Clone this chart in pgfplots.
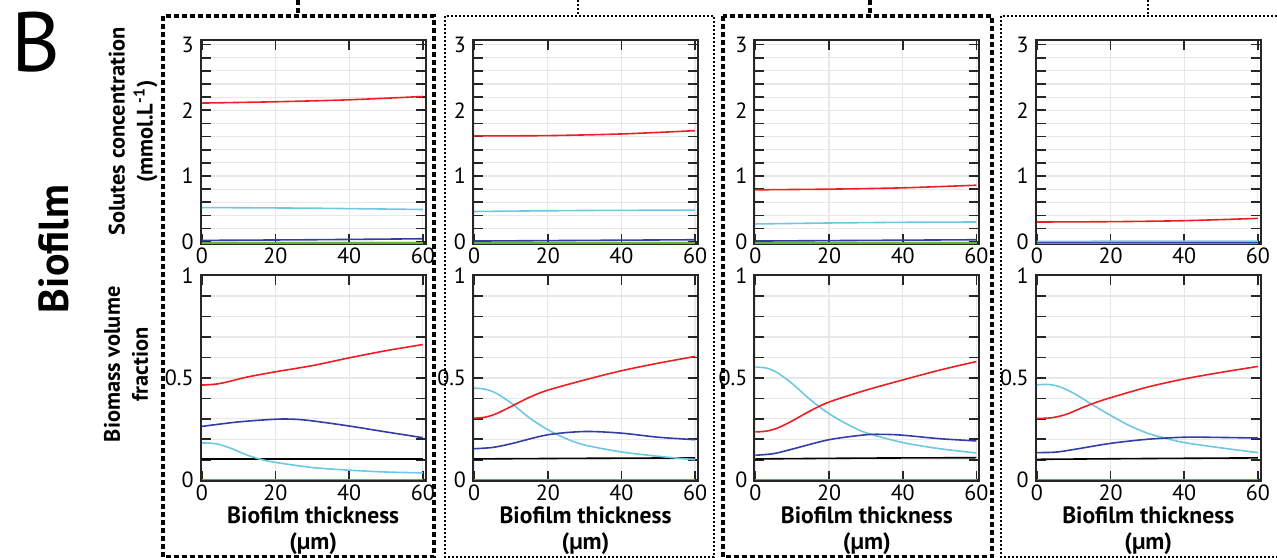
\documentclass[border=0pt]{standalone}
\usepackage{fontspec}
\setmainfont{PT Sans}
\usepackage{pgfplots}
\pgfplotsset{compat=1.18}

\definecolor{cred}{RGB}{237,30,36}
\definecolor{ccyan}{RGB}{110,200,225}
\definecolor{cblue}{RGB}{50,62,165}
\definecolor{cgreen}{RGB}{100,180,60}

\newcommand\tickfont{\fontsize{11bp}{13bp}\selectfont}
\newcommand\ylabfont{\fontsize{11.2bp}{14bp}\selectfont\bfseries}
\newcommand\xlabfont{\fontsize{11.8bp}{13bp}\selectfont\bfseries}

\pgfplotsset{
  panel/.style={
    scale only axis, width=112.5bp, anchor=north west,
    xmin=-0.3, xmax=60.8, xtick={0,20,40,60},
    axis line style={line width=0.9bp, black!85},
    tick style={line width=0.8bp, black!85},
    major tick length=5bp, minor tick length=5bp, tick align=inside,
    xmajorgrids, ymajorgrids, yminorgrids,
    major grid style={gray!18, line width=0.6bp},
    minor grid style={gray!18, line width=0.6bp},
    tick label style={font=\tickfont},
    xticklabel style={inner sep=1.8bp},
    /pgf/number format/assume math mode=true,
    every axis plot/.append style={line width=0.8bp, smooth, no markers},
  },
  toppanel/.style={panel, height=102bp, ymin=-0.035, ymax=3.07,
    ytick={0,1,2,3}, minor y tick num=4},
  botpanel/.style={panel, height=103bp, ymin=-0.004, ymax=1.003,
    ytick={0,0.5,1}, yticklabels={0,0.5,1}, minor y tick num=4,
    xlabel={Biofilm thickness\\(\symbol{"00B5}m)},
    xlabel style={align=center, font=\xlabfont, anchor=center, inner sep=0pt,
      at={(axis description cs:0.5,-0.24)}}},
}

\begin{document}
\begin{tikzpicture}
\begin{scope}[x=0.5bp, y=-0.5bp]
  \useasboundingbox (0,0) rectangle (1277,558);
  \tikzset{dsh/.style={line width=1.6bp, dash pattern=on 2.4bp off 1.6bp},
           dtt/.style={line width=1.3bp, dash pattern=on 1.1bp off 0.9bp}}
  \draw[dsh] (163,16) rectangle (434,557);
  \draw[dtt] (445,16) rectangle (714,557);
  \draw[dsh] (723,16) rectangle (992,557);
  \draw[dtt] (1001,16) rectangle (1290,557);
  \draw[dsh] (298,0) -- (298,16);
  \draw[dtt] (578,0) -- (578,16);
  \draw[dsh] (870,0) -- (870,16);
  \draw[dtt] (1148,0) -- (1148,16);
  \node at (36,42) {\fontsize{42bp}{42bp}\selectfont B};
  \node[rotate=90] at (54,249) {\fontsize{21bp}{21bp}\selectfont\bfseries Biofilm};
\end{scope}

% ---- column 1 ----
\begin{axis}[toppanel, at={(100.35bp,-20bp)},
  ylabel={Solutes concentration\\(mmol.L\textsuperscript{-1})},
  ylabel style={align=center, font=\ylabfont, anchor=center,
    at={(axis description cs:-0.301,0.551)}}]
\addplot[cgreen] coordinates {(0,-0.02)(60,-0.02)};
\addplot[cblue] coordinates {(0,0.02)(30,0.03)(60,0.045)};
\addplot[ccyan] coordinates {(0,0.52)(30,0.51)(60,0.49)};
\addplot[cred] coordinates {(0,2.11)(20,2.13)(40,2.16)(60,2.21)};
\end{axis}
\begin{axis}[botpanel, at={(100.35bp,-137.5bp)},
  ylabel={Biomass volume\\fraction},
  ylabel style={align=center, font=\ylabfont, anchor=center,
    at={(axis description cs:-0.332,0.566)}}]
\addplot[cgreen] coordinates {(0,0.003)(60,0.003)};
\addplot[black] coordinates {(0,0.104)(60,0.104)};
\addplot[ccyan] coordinates {(0,0.182)(4,0.178)(8,0.155)(12,0.125)(16,0.102)(20,0.087)(30,0.062)(40,0.049)(50,0.04)(60,0.036)};
\addplot[cblue] coordinates {(0,0.263)(10,0.285)(20,0.298)(25,0.298)(30,0.29)(40,0.265)(50,0.236)(60,0.208)};
\addplot[cred] coordinates {(0,0.465)(4,0.47)(8,0.485)(12,0.503)(20,0.53)(30,0.56)(40,0.598)(50,0.633)(60,0.663)};
\end{axis}

% ---- column 2 ----
\begin{axis}[toppanel, at={(236.5bp,-20bp)}]
\addplot[cgreen] coordinates {(0,-0.02)(60,-0.02)};
\addplot[cblue] coordinates {(0,0.01)(30,0.02)(60,0.03)};
\addplot[ccyan] coordinates {(0,0.46)(30,0.475)(60,0.48)};
\addplot[cred] coordinates {(0,1.61)(20,1.615)(40,1.64)(60,1.69)};
\end{axis}
\begin{axis}[botpanel, at={(236.5bp,-137.5bp)}]
\addplot[cgreen] coordinates {(0,0.003)(60,0.003)};
\addplot[black] coordinates {(0,0.104)(30,0.107)(60,0.109)};
\addplot[ccyan] coordinates {(0,0.45)(3,0.445)(6,0.425)(10,0.378)(15,0.305)(20,0.247)(25,0.203)(30,0.172)(40,0.138)(50,0.117)(60,0.10)};
\addplot[cblue] coordinates {(0,0.154)(5,0.16)(10,0.178)(20,0.222)(30,0.238)(40,0.23)(50,0.21)(60,0.198)};
\addplot[cred] coordinates {(0,0.303)(3,0.308)(6,0.325)(10,0.36)(15,0.405)(20,0.44)(30,0.49)(40,0.535)(50,0.572)(60,0.605)};
\end{axis}

% ---- column 3 ----
\begin{axis}[toppanel, at={(377.15bp,-20bp)}]
\addplot[cgreen] coordinates {(0,-0.02)(60,-0.02)};
\addplot[cblue] coordinates {(0,0.01)(30,0.02)(60,0.03)};
\addplot[ccyan] coordinates {(0,0.27)(20,0.285)(40,0.295)(60,0.30)};
\addplot[cred] coordinates {(0,0.79)(20,0.80)(40,0.82)(60,0.86)};
\end{axis}
\begin{axis}[botpanel, at={(377.15bp,-137.5bp)}]
\addplot[cgreen] coordinates {(0,0.003)(60,0.003)};
\addplot[black] coordinates {(0,0.104)(30,0.108)(60,0.11)};
\addplot[ccyan] coordinates {(0,0.553)(3,0.548)(6,0.525)(10,0.472)(15,0.392)(20,0.325)(25,0.273)(30,0.232)(40,0.184)(50,0.154)(60,0.133)};
\addplot[cblue] coordinates {(0,0.122)(5,0.13)(10,0.152)(20,0.198)(30,0.222)(35,0.224)(40,0.22)(50,0.203)(60,0.192)};
\addplot[cred] coordinates {(0,0.236)(3,0.24)(6,0.255)(10,0.29)(15,0.34)(20,0.382)(30,0.44)(40,0.49)(50,0.538)(60,0.58)};
\end{axis}

% ---- column 4 ----
\begin{axis}[toppanel, at={(517.85bp,-20bp)}]
\addplot[cgreen] coordinates {(0,-0.02)(60,-0.02)};
\addplot[cblue] coordinates {(0,0.0)(60,0.0)};
\addplot[ccyan] coordinates {(0,0.005)(60,0.01)};
\addplot[cred] coordinates {(0,0.30)(20,0.305)(40,0.32)(60,0.355)};
\end{axis}
\begin{axis}[botpanel, at={(517.85bp,-137.5bp)}]
\addplot[cgreen] coordinates {(0,0.003)(60,0.003)};
\addplot[black] coordinates {(0,0.102)(30,0.106)(60,0.109)};
\addplot[ccyan] coordinates {(0,0.466)(3,0.468)(6,0.458)(10,0.425)(15,0.37)(20,0.317)(25,0.268)(30,0.23)(35,0.205)(40,0.184)(50,0.158)(60,0.135)};
\addplot[cblue] coordinates {(0,0.135)(5,0.137)(10,0.15)(20,0.18)(30,0.20)(40,0.21)(50,0.209)(60,0.206)};
\addplot[cred] coordinates {(0,0.302)(4,0.305)(8,0.322)(12,0.352)(16,0.38)(20,0.403)(30,0.455)(40,0.495)(50,0.527)(60,0.556)};
\end{axis}
\end{tikzpicture}
\end{document}
